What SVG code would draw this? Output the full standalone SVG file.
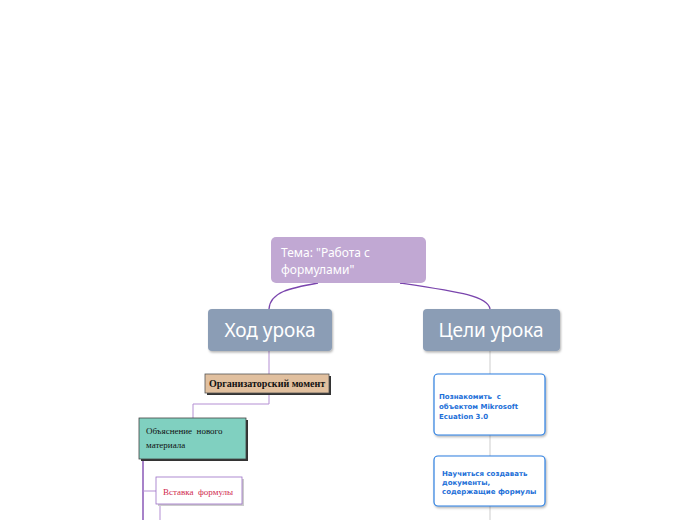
<svg xmlns="http://www.w3.org/2000/svg" width="696" height="520" viewBox="0 0 696 520">
<defs>
<filter id="sh" x="-10%" y="-10%" width="130%" height="140%">
<feDropShadow dx="1" dy="1.5" stdDeviation="1.2" flood-color="#000" flood-opacity="0.3"/>
</filter>
</defs>
<style>
.main{fill:#8b9db5;filter:url(#sh)}
.mt{font-family:"Noto Sans","Open Sans",sans-serif;font-size:19px;fill:#fff;text-anchor:middle}
.ser{font-family:"Liberation Serif",serif;white-space:pre}
.blue{fill:#fff;stroke:#2c7fe0;stroke-width:1.2;filter:url(#sh)}
.bt{font-family:"DejaVu Sans","Verdana",sans-serif;font-size:7px;font-weight:bold;fill:#1d6fd8;white-space:pre}
.pl{fill:none;stroke:#b48fd3;stroke-width:1}
.gl{fill:none;stroke:#d6d6d6;stroke-width:1.2}
</style>
<rect width="696" height="520" fill="#fff"/>
<g id="connectors">
<path d="M318,283 C290,288 270,292 269,309" fill="none" stroke="#7a45ad" stroke-width="1.3"/>
<path d="M400,283 C460,292 488,296 490,309" fill="none" stroke="#7a45ad" stroke-width="1.3"/>
<path class="pl" d="M269,351 V374"/>
<path class="pl" d="M269,393 V404 H193 V418"/>
<path d="M143,459 V520" fill="none" stroke="#a782c9" stroke-width="2"/>
<path class="pl" d="M143,491 H156"/>
<path class="pl" d="M160,504 V520"/>
<path class="gl" d="M490,351 V374"/>
<path class="gl" d="M490,435 V456"/>
<path class="gl" d="M490,506 V520"/>
</g>
<g id="root">
<rect x="271" y="237" width="155" height="46" rx="5" fill="#c1a8d3"/>
<text font-family="Noto Sans,Open Sans,sans-serif" font-size="12" fill="#fff"><tspan x="281" y="257">Тема: "Работа с</tspan><tspan x="281" y="274">формулами"</tspan></text>
</g>
<g id="hod">
<rect class="main" x="208" y="309" width="124" height="42" rx="4"/>
<text class="mt" x="270" y="337">Ход урока</text>
</g>
<g id="celi">
<rect class="main" x="423" y="309" width="137" height="42" rx="4"/>
<text class="mt" x="491" y="337">Цели урока</text>
</g>
<g id="org">
<rect x="207" y="376" width="124" height="19" fill="#333"/>
<rect x="205" y="374" width="124" height="19" fill="#e1c09f" stroke="#555" stroke-width="0.8"/>
<text class="ser" x="267" y="387" font-size="10" font-weight="bold" text-anchor="middle" fill="#111">Организаторский момент</text>
</g>
<g id="obj">
<rect x="141" y="420" width="107" height="41" fill="#333"/>
<rect x="139" y="418" width="107" height="41" fill="#80d0c0" stroke="#444" stroke-width="0.8"/>
<text class="ser" font-size="9" fill="#111"><tspan x="146" y="434">Объяснение  нового</tspan><tspan x="146" y="448">материала</tspan></text>
</g>
<g id="vstavka">
<rect x="158" y="479" width="86" height="27" fill="#ccc"/>
<rect x="156" y="477" width="86" height="27" fill="#fff" stroke="#9b6fc6" stroke-width="0.8"/>
<text class="ser" x="163" y="495" font-size="9" fill="#d02a4e">Вставка  формулы</text>
</g>
<g id="goal1">
<rect class="blue" x="434" y="374" width="111" height="61" rx="4"/>
<text class="bt"><tspan x="439" y="399">Познакомить  с</tspan><tspan x="439" y="409">объектом Mikrosoft</tspan><tspan x="439" y="419">Ecuation 3.0</tspan></text>
</g>
<g id="goal2">
<rect class="blue" x="434" y="456" width="111" height="50" rx="4"/>
<text class="bt"><tspan x="442" y="476">Научиться создавать</tspan><tspan x="442" y="485">документы,</tspan><tspan x="442" y="494">содержащие формулы</tspan></text>
</g>
</svg>
